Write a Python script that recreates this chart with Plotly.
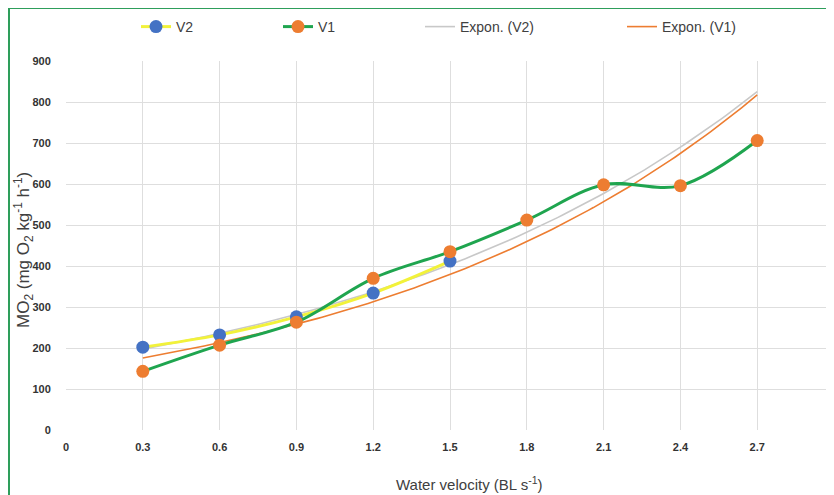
import numpy as np
import plotly.graph_objects as go

# ---- data ----
velocity_v2 = [0.3, 0.6, 0.9, 1.2, 1.5]
mo2_v2 = [202, 232, 276, 334, 412]

velocity_v1 = [0.3, 0.6, 0.9, 1.2, 1.5, 1.8, 2.1, 2.4, 2.7]
mo2_v1 = [143, 207, 263, 370, 435, 512, 598, 596, 706]

x_ticks = [0, 0.3, 0.6, 0.9, 1.2, 1.5, 1.8, 2.1, 2.4, 2.7, 3]
x_tick_labels = ["0", "0.3", "0.6", "0.9", "1.2", "1.5", "1.8", "2.1", "2.4", "2.7", "3"]
y_ticks = [0, 100, 200, 300, 400, 500, 600, 700, 800, 900]


# Excel-style exponential trendline (least squares on ln y)
def expon_fit(x, y):
    b, ln_a = np.polyfit(np.asarray(x, float), np.log(np.asarray(y, float)), 1)
    return np.exp(ln_a), b


trend_x = np.linspace(0.3, 2.7, 121)
a2, b2 = expon_fit(velocity_v2, mo2_v2)
a1, b1 = expon_fit(velocity_v1, mo2_v1)
trend_v2 = a2 * np.exp(b2 * trend_x)
trend_v1 = a1 * np.exp(b1 * trend_x)

W, H = 834, 495
OFF = 8  # page body margin shifts the figure by this many px
# target screen positions of the plot area
S_LEFT, S_RIGHT, S_TOP, S_BOTTOM = 66, 834, 61, 430
ML = S_LEFT - OFF
MR = W - (S_RIGHT - OFF)
MT = S_TOP - OFF
MB = H - (S_BOTTOM - OFF)
PW, PH = W - ML - MR, H - MT - MB

BLUE = "#4472C4"
ORANGE = "#ED7D31"
GREEN = "#1FA54F"
YELLOW = "#F2F23A"
GREY = "#C8C8C8"
TXT = "#404040"
FONT = "Liberation Sans, Arial, sans-serif"


def px_x(p):  # screen px -> paper x
    return (p - OFF - ML) / PW


def px_y(p):  # screen px -> paper y
    return (S_BOTTOM - p) / PH


fig = go.Figure()

fig.add_trace(go.Scatter(
    x=trend_x, y=trend_v2, mode="lines", name="Expon. (V2)",
    line=dict(color=GREY, width=1.6), legend="legend3"))
fig.add_trace(go.Scatter(
    x=trend_x, y=trend_v1, mode="lines", name="Expon. (V1)",
    line=dict(color=ORANGE, width=1.6), legend="legend4"))
fig.add_trace(go.Scatter(
    x=velocity_v2, y=mo2_v2, mode="lines+markers", name="V2",
    line=dict(color=YELLOW, width=3, shape="spline"),
    marker=dict(color=BLUE, size=13, line=dict(width=0)), legend="legend"))
fig.add_trace(go.Scatter(
    x=velocity_v1, y=mo2_v1, mode="lines+markers", name="V1",
    line=dict(color=GREEN, width=3, shape="spline"),
    marker=dict(color=ORANGE, size=13, line=dict(width=0)), legend="legend2"))

leg_common = dict(orientation="h", xanchor="left", yanchor="middle",
                  bgcolor="rgba(0,0,0,0)", font=dict(family=FONT, size=14, color=TXT),
                  itemwidth=30)

legend_y = px_y(27)
fig.update_layout(
    legend=dict(x=px_x(136), y=legend_y, **leg_common),
    legend2=dict(x=px_x(278), y=legend_y, **leg_common),
    legend3=dict(x=px_x(420), y=legend_y, **leg_common),
    legend4=dict(x=px_x(622), y=legend_y, **leg_common),
)

fig.update_layout(
    width=W, height=H,
    margin=dict(l=ML, r=MR, t=MT, b=MB, autoexpand=False),
    paper_bgcolor="white", plot_bgcolor="white",
    font=dict(family=FONT, color=TXT),
    showlegend=True,
    xaxis=dict(range=[0, 3], tickvals=x_ticks, ticktext=x_tick_labels,
               showgrid=True, gridcolor="#DEDEDE", gridwidth=1.2, zeroline=False,
               showline=False, ticks="outside", ticklen=7, tickcolor="rgba(0,0,0,0)",
               tickfont=dict(family=FONT, size=11, color="#333333", weight="bold"),
               automargin=False, fixedrange=True),
    yaxis=dict(range=[0, 900], tickvals=y_ticks,
               showgrid=True, gridcolor="#DEDEDE", gridwidth=1.2, zeroline=False,
               showline=False, ticks="outside", ticklen=12, tickcolor="rgba(0,0,0,0)",
               tickfont=dict(family=FONT, size=11, color="#333333", weight="bold"),
               automargin=False, fixedrange=True),
    annotations=[
        dict(text="Water velocity (BL s<sup>-1</sup>)", xref="paper", yref="paper",
             x=px_x(469), y=px_y(483), xanchor="center", yanchor="middle",
             showarrow=False, font=dict(size=15, color=TXT)),
        dict(text="MO<sub>2</sub> (mg O<sub>2</sub> kg<sup>-1</sup> h<sup>-1</sup>)",
             xref="paper", yref="paper", x=px_x(23), y=px_y(250),
             xanchor="center", yanchor="middle", textangle=-90,
             showarrow=False, font=dict(size=17, color=TXT)),
    ],
    shapes=[
        dict(type="rect", xref="paper", yref="paper",
             x0=px_x(9), x1=px_x(850), y0=px_y(520), y1=px_y(8),
             line=dict(color="#2E9E5B", width=2), fillcolor="rgba(0,0,0,0)",
             layer="above"),
    ],
)

fig.write_html("out.html")
